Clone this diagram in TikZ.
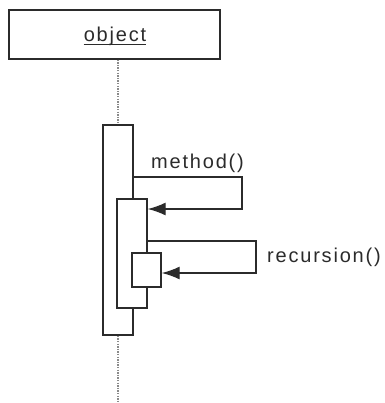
\documentclass[tikz,border=0pt]{standalone}
\usepackage{fontspec}
\setmainfont{Liberation Sans}
\newfontfamily\umlfont[LetterSpace=9]{Liberation Sans}
\usetikzlibrary{arrows.meta}
\definecolor{ink}{HTML}{2B2B2B}
\definecolor{life}{HTML}{8A8A8A}

\begin{document}
\begin{tikzpicture}[x=1pt,y=-1pt,font=\umlfont\fontsize{20}{22}\selectfont,text=ink,
    objbox/.style={draw=ink,line width=1.4pt,fill=white,minimum width=211pt,minimum height=49pt,inner sep=0pt},
    actbox/.style={draw=ink,line width=1.4pt,fill=white,minimum width=30pt,inner sep=0pt},
    lifeline/.style={draw=life,line width=1.3pt,dash pattern=on 1.4pt off 1.2pt},
    msg/.style={draw=ink,line width=1.3pt,-{Latex[length=18pt,width=13pt]}},
    lbl/.style={inner sep=0pt}]
  \useasboundingbox (0,0) rectangle (384,403);

  \node[objbox] (obj) at (114.5,34.5) {};
  \node[lbl,anchor=base] (objname) at (115,41.7) {object};
  \draw[ink,line width=1.1pt] ([yshift=-2.6pt]objname.base west) -- ([yshift=-2.6pt]objname.base east);

  \node[actbox,minimum height=210pt] (act1) at (118,230) {};
  \node[actbox,minimum height=109pt] (act2) at (132,253.5) {};
  \node[actbox,minimum width=29pt,minimum height=34pt] (act3) at (146.5,270) {};

  \coordinate (bottom) at (118,403);
  \draw[lifeline] (act1.north |- obj.south) -- (act1.north);
  \draw[lifeline] (act1.south) -- (bottom);

  % self calls
  \coordinate (m1a) at (242,177);
  \coordinate (m1b) at (242,209);
  \draw[msg] (act1.east |- m1a) -- (m1a) -- (m1b) -- (act2.east |- m1b);
  \node[lbl,anchor=base west] (mlbl) at (151,168) {method()};

  \coordinate (r1a) at (256,241);
  \coordinate (r1b) at (256,273);
  \draw[msg] (act2.east |- r1a) -- (r1a) -- (r1b) -- (act3.east |- r1b);
  \node[lbl,anchor=base west] (rlbl) at (267,262) {recursion()};
\end{tikzpicture}
\end{document}
